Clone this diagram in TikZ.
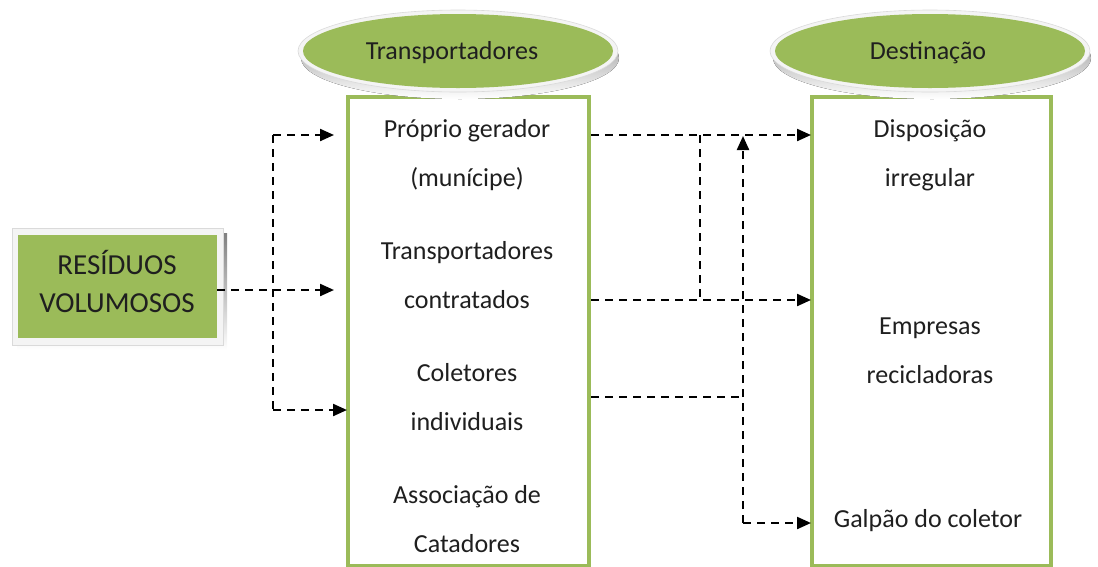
\documentclass[tikz,border=0pt]{standalone}
\usepackage{fontspec}
\setmainfont{Carlito}
\usetikzlibrary{arrows.meta,shapes.geometric}
\definecolor{olive}{HTML}{9BBB59}
\definecolor{rim}{HTML}{F4F4F4}
\definecolor{rimline}{HTML}{DADADA}
\definecolor{shade}{HTML}{B5B5B5}
\tikzset{
  conn/.style={line width=2.2pt, dash pattern=on 8pt off 6pt, black},
  arr/.style={conn, -{Triangle[length=14pt,width=12pt]}},
  lbl/.style={font=\fontsize{26}{49}\selectfont, align=center, text=black!88},
  col/.style={draw=olive, line width=4.5pt},
}
\begin{document}
\begin{tikzpicture}[x=1pt,y=-1pt]
\useasboundingbox (0,0) rectangle (1098,566);
\clip (0,0) rectangle (1098,566);
% RESIDUOS box
\fill[shade] (17,233) rectangle (227,350);
\fill[rim, draw=rimline, line width=0.6pt] (12,228) rectangle (223,345);
\node[fill=olive, minimum width=199pt, minimum height=103pt, inner sep=0pt] (res) at (117.5,286.5) {};
\node[lbl, font=\fontsize{29}{38}\selectfont] (rest) at (117,281) {RESÍDUOS\\VOLUMOSOS};
% columns
\draw[col, fill=white] (348,97) rectangle (589,566);
\draw[col, fill=white] (812,97) rectangle (1051,566);
% ellipses
\fill[shade] (460,58) ellipse [x radius=159, y radius=41];
\fill[rim, draw=rimline, line width=0.6pt] (458,51) ellipse [x radius=160, y radius=41];
\fill[olive] (458,51) ellipse [x radius=155, y radius=37];
\node[lbl] (etr) at (452,53) {Transportadores};
\fill[shade] (932,58) ellipse [x radius=159, y radius=41];
\fill[rim, draw=rimline, line width=0.6pt] (930,51) ellipse [x radius=160, y radius=41];
\fill[olive] (930,51) ellipse [x radius=155, y radius=37];
\node[lbl] (ede) at (928,53) {Destinação};
% left column texts
\node[lbl] (t1) at (467,155) {Próprio gerador\\(munícipe)};
\node[lbl] (t2) at (467,275) {Transportadores\\contratados};
\node[lbl] (t3) at (467,397) {Coletores\\individuais};
\node[lbl] (t4) at (467,519) {Associação de\\Catadores};
% right column texts
\node[lbl] (d1) at (930,155) {Disposição\\irregular};
\node[lbl] (d2) at (930,351) {Empresas\\recicladoras};
\node[lbl] (d3) at (928,521) {Galpão do coletor};
% coordinates
\coordinate (a0) at (217,290);
\coordinate (a1) at (334,290);
\coordinate (vt) at (273,135);
\coordinate (vb) at (273,410);
\coordinate (p1) at (334,135);
\coordinate (p3) at (347,410);
\coordinate (r1s) at (591,135);
\coordinate (r1e) at (811,135);
\coordinate (r2s) at (591,300);
\coordinate (r2e) at (811,300);
\coordinate (m1) at (700,135);
\coordinate (m2) at (700,300);
\coordinate (r3s) at (591,397);
\coordinate (c3) at (743,397);
\coordinate (cb) at (743,523);
\coordinate (ct) at (743,136);
\coordinate (r4e) at (811,523);
% left connectors
\draw[arr] (a0) -- (a1);
\draw[conn] (vt) -- (vb);
\draw[arr] (vt) -- (p1);
\draw[arr] (vb) -- (p3);
% right connectors
\draw[arr] (r1s) -- (r1e);
\draw[arr] (r2s) -- (r2e);
\draw[conn] (m1) -- (m2);
\draw[conn] (r3s) -- (c3);
\draw[arr] (cb) -- (ct);
\draw[arr] (cb) -- (r4e);
\end{tikzpicture}
\end{document}
